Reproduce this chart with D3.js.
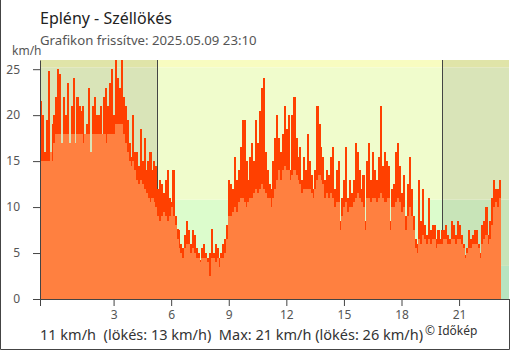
<!DOCTYPE html>
<html>
<head>
<meta charset="utf-8">
<script src="https://cdn.jsdelivr.net/npm/d3@7"></script>
<style>
    body { margin: 0; background: #fff; }
    svg { font-family: "Noto Sans", sans-serif; display: block; }
</style>
</head>
<body>
<div id="chart"></div>
<script>
// Texts
var title = "Eplény - Széllökés";
var subtitle = "Grafikon frissítve: 2025.05.09 23:10";
var unitLabel = "km/h";
var summaryText = "11 km/h  (lökés: 13 km/h)  Max: 21 km/h (lökés: 26 km/h)";
var creditText = "© Időkép";

// Time axis in hours from midnight (first point is 23:10 of the previous day)
var startHour = -50 / 60;
var stepHours = 0.1;
var endHour = 23.6;
var xTicks = [3, 6, 9, 12, 15, 18, 21];
var yTicks = [0, 5, 10, 15, 20, 25];
var yMax = 26;

// Sunrise / sunset (hours)
var sunrise = 5.26;
var sunset = 20.13;

// Background wind bands (km/h) and colours for day / night
var bandLimits = [0, 3.6, 10.8, 25.2, 26];
var dayColors = ["#c8f4c8", "#dcfccc", "#f0fccc", "#f8fcc0"];
var nightColors = ["#b8e4c0", "#c8e4b8", "#d9e4b8", "#e0e4a8"];

// Gust (km/h), one value every 6 minutes
var gust = [
    21.5, 20, 16, 19.5, 24.8, 16, 19, 20, 22, 25,
    24.5, 17, 22, 20, 23.5, 16.5, 21, 24, 17, 22,
    21, 20.5, 21, 16, 19, 23, 16, 21, 22, 20,
    20, 21, 16, 22, 23, 21, 23.5, 25, 20, 26,
    24, 23, 26, 22, 21, 19.5, 17, 15.5, 20, 16,
    16, 14.5, 18.5, 15, 17.5, 14, 15, 16, 14, 15,
    14.5, 12, 13, 12.5, 11.5, 13, 14, 11, 10.5, 14,
    9, 7.6, 7.5, 6, 5.5, 7, 8.5, 7.5, 6, 7.5,
    7, 5.5, 5, 4.2, 5.5, 6, 5, 4.5, 5, 7.6,
    5, 6, 5.5, 4.5, 5, 6, 6.5, 8, 13, 12.5,
    12, 15.5, 13, 14, 16.5, 19.5, 19.5, 15, 13, 15.5,
    17, 15, 19.5, 17, 20.5, 23, 24, 16, 14, 12.5,
    12, 15, 17.5, 20, 17.5, 16, 18, 21, 18.5, 20,
    14, 20, 22, 17.5, 15.5, 16.5, 13, 15.5, 14, 18,
    15, 13.5, 12, 14, 21, 19, 16.5, 15.5, 13, 14,
    13.5, 15.5, 16.5, 12, 14, 15, 8.5, 11, 13, 16.5,
    11, 13, 11.5, 13, 17, 16, 14, 12, 13.5, 8.5,
    15, 17, 13, 16, 14, 13, 15.5, 21, 14.5, 16,
    15, 14.5, 8.5, 12, 12.5, 16, 17, 14.5, 11.5, 13.5,
    9, 12.5, 15.5, 12, 9, 6.5, 6, 13, 8.5, 12,
    8, 7, 11, 7.5, 8, 8, 6.5, 7.5, 6.5, 7.5,
    7.5, 8, 7, 6.5, 8.5, 8, 7, 8.5, 8, 7,
    6, 4.8, 5.5, 7.5, 6.5, 7, 7.5, 7.5, 6, 5,
    8, 8.5, 10, 7, 8.5, 11, 13, 12, 12, 13
];

// Average wind (km/h), same times
var avg = [
    15, 15, 15, 15, 15, 16, 15, 17, 18, 18,
    18, 17, 18, 18, 18, 17, 18, 18, 17, 18,
    18, 18, 17, 18, 18, 18, 16, 18, 18, 18,
    18, 18, 18, 18, 17, 18, 18, 18, 18, 19,
    19, 19, 19, 18, 17, 16, 15, 14.5, 15, 14,
    13, 12.5, 13, 12.5, 12, 11.5, 11, 10.5, 11, 10.5,
    10, 9, 8.5, 9, 9.5, 9, 8.5, 9, 10, 9,
    8, 6.5, 5.5, 5, 4.5, 5.5, 6, 6, 5, 5.5,
    5, 4.5, 4.5, 4, 4.5, 4.5, 4.5, 4, 2.5, 4.5,
    4.5, 4, 4.5, 3.5, 4.5, 4.5, 5, 6.5, 9, 9,
    9.5, 10, 9.5, 10.5, 11, 11, 10.5, 10, 10.5, 11,
    11, 11.5, 12, 11.5, 12, 12.5, 12, 11.5, 11, 11,
    10, 11, 12, 13, 14, 13, 14, 14.5, 14, 14,
    13, 13.5, 14, 13.5, 13, 12.5, 11.5, 12, 12, 12,
    12, 11.5, 11, 12, 13, 13.5, 13, 12.5, 11, 11.5,
    11, 11.5, 11, 10, 10.5, 10.5, 7.5, 9, 10, 10.5,
    9.5, 10, 10, 10.5, 11, 11.5, 11, 10.5, 10, 7.5,
    11, 11, 10.5, 11, 11, 10.5, 11, 11.5, 11, 10.5,
    10.5, 11, 7.5, 10, 10, 10.5, 11, 10.5, 9.5, 10,
    7.5, 9, 10, 9, 7.5, 5.5, 5, 6.5, 6, 7,
    6.5, 6, 6.5, 6, 6.5, 6.5, 5.5, 6, 6, 6,
    6.5, 6.5, 6, 6, 6.5, 6.5, 6, 6.5, 6.5, 6,
    5.5, 4.5, 5, 5.5, 5.5, 6, 6, 6, 5.5, 4.5,
    6, 6.5, 7, 6, 6.5, 8, 10, 10.5, 10, 11
];

var svgWidth = 510;
var svgHeight = 350;
var margin = { top: 60, right: 1, bottom: 51, left: 40 };
var chartWidth = svgWidth - margin.left - margin.right;
var chartHeight = svgHeight - margin.top - margin.bottom;

var svg = d3.select("#chart").append("svg")
    .attr("width", svgWidth)
    .attr("height", svgHeight);

// Frame round the picture
svg.append("path")
    .attr("d", "M0.5,0V349.5H509.5V299")
    .attr("fill", "none")
    .attr("stroke", "#444");

// Title texts
svg.append("text").attr("x", 40).attr("y", 24)
    .attr("font-size", 16).attr("fill", "#222").text(title);
svg.append("text").attr("x", 40).attr("y", 45)
    .attr("font-size", 13.2).attr("fill", "#555").text(subtitle);
svg.append("text").attr("x", 12).attr("y", 55)
    .attr("font-size", 12).attr("fill", "#555").text(unitLabel);

var chartGroup = svg.append("g")
    .attr("transform", `translate(${margin.left}, ${margin.top})`);

var xScale = d3.scaleLinear().domain([startHour, endHour]).range([0, chartWidth]);
var yScale = d3.scaleLinear().domain([0, yMax]).range([chartHeight, 0]);

// Day / night background bands
var periods = [
    { from: startHour, to: sunrise, colors: nightColors },
    { from: sunrise, to: sunset, colors: dayColors },
    { from: sunset, to: endHour, colors: nightColors }
];
periods.forEach(function (p) {
    for (var b = 0; b < bandLimits.length - 1; b++) {
        chartGroup.append("rect")
            .attr("x", xScale(p.from))
            .attr("width", xScale(p.to) - xScale(p.from))
            .attr("y", yScale(bandLimits[b + 1]))
            .attr("height", yScale(bandLimits[b]) - yScale(bandLimits[b + 1]))
            .attr("fill", p.colors[b]);
    }
});

// Sunrise / sunset lines
[sunrise, sunset].forEach(function (h) {
    chartGroup.append("line")
        .attr("x1", Math.round(xScale(h)) + 0.5).attr("x2", Math.round(xScale(h)) + 0.5)
        .attr("y1", 0).attr("y2", chartHeight)
        .attr("stroke", "#444");
});

var barWidth = xScale(startHour + stepHours) - xScale(startHour);

// Gust bars
chartGroup.selectAll(".gust")
    .data(gust)
    .enter()
    .append("rect")
    .attr("class", "gust")
    .attr("x", (d, i) => xScale(startHour + i * stepHours))
    .attr("width", barWidth + 0.3)
    .attr("y", d => yScale(d))
    .attr("height", d => chartHeight - yScale(d))
    .attr("fill", "#ff4000")
    .attr("shape-rendering", "crispEdges");

// Average bars
chartGroup.selectAll(".avg")
    .data(avg)
    .enter()
    .append("rect")
    .attr("class", "avg")
    .attr("x", (d, i) => xScale(startHour + i * stepHours))
    .attr("width", barWidth + 0.3)
    .attr("y", d => yScale(d))
    .attr("height", d => chartHeight - yScale(d))
    .attr("fill", "#ff8040")
    .attr("shape-rendering", "crispEdges");

// Axes
var leftAxis = d3.axisLeft(yScale)
    .tickValues(yTicks)
    .tickSize(7)
    .tickSizeOuter(0)
    .tickPadding(13);
var bottomAxis = d3.axisBottom(xScale)
    .tickValues([startHour].concat(xTicks))
    .tickSize(7)
    .tickSizeOuter(0)
    .tickPadding(4)
    .tickFormat(d => d === startHour ? "" : d);

var yAxisG = chartGroup.append("g").call(leftAxis);
var xAxisG = chartGroup.append("g")
    .attr("transform", `translate(0, ${chartHeight})`)
    .call(bottomAxis);

[yAxisG, xAxisG].forEach(function (g) {
    g.selectAll("path, line").attr("stroke", "#444");
    g.selectAll("text")
        .attr("fill", "#555")
        .attr("font-size", 12)
        .attr("font-family", "Noto Sans, sans-serif");
});

// Summary line at the bottom
svg.append("text").attr("x", 40).attr("y", 340)
    .attr("font-size", 14.5).attr("fill", "#333")
    .attr("xml:space", "preserve")
    .style("white-space", "pre")
    .text(summaryText);
svg.append("text").attr("x", 425).attr("y", 335)
    .attr("font-size", 12).attr("fill", "#333")
    .text(creditText);
</script>
</body>
</html>
